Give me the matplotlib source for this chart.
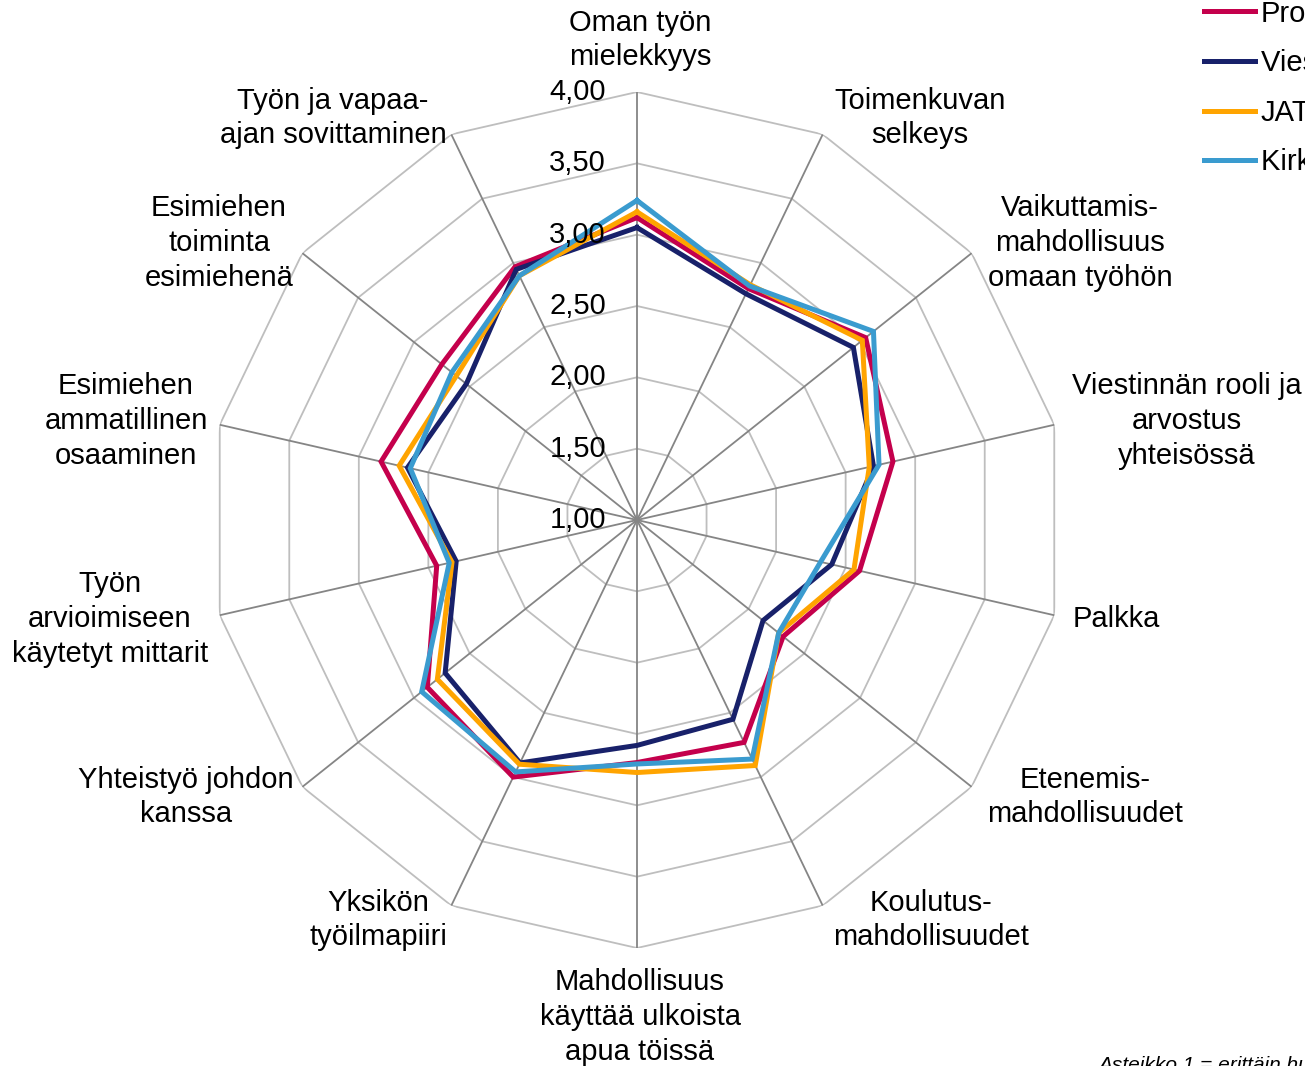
import numpy as np
import matplotlib
matplotlib.use("Agg")
import matplotlib.pyplot as plt
from matplotlib.transforms import offset_copy

plt.rcParams['font.family'] = ['Liberation Sans', 'DejaVu Sans']

# ------------------------
# Data
# ------------------------
categories = [
    "Oman työn\nmielekkyys",
    "Toimenkuvan\nselkeys",
    "Vaikuttamis-\nmahdollisuus\nomaan työhön",
    "Viestinnän rooli ja\narvostus\nyhteisössä",
    "Palkka",
    "Etenemis-\nmahdollisuudet",
    "Koulutus-\nmahdollisuudet",
    "Mahdollisuus\nkäyttää ulkoista\napua töissä",
    "Yksikön\ntyöilmapiiri",
    "Yhteistyö johdon\nkanssa",
    "Työn\narvioimiseen\nkäytetyt mittarit",
    "Esimiehen\nammatillinen\nosaaminen",
    "Esimiehen\ntoiminta\nesimiehenä",
    "Työn ja vapaa-\najan sovittaminen",
]

procom = [3.12, 2.80, 3.05, 2.84, 2.60, 2.31, 2.73, 2.70, 3.00, 2.88, 2.44, 2.84, 2.75, 2.97]
viestijat = [3.05, 2.76, 2.94, 2.70, 2.40, 2.13, 2.55, 2.58, 2.89, 2.72, 2.30, 2.65, 2.53, 2.95]
jat = [3.16, 2.83, 3.02, 2.67, 2.56, 2.27, 2.91, 2.77, 2.90, 2.79, 2.33, 2.71, 2.62, 2.90]
kirkko = [3.24, 2.82, 3.12, 2.74, 2.32, 2.27, 2.86, 2.71, 2.96, 2.93, 2.35, 2.63, 2.66, 2.90]

series_names = ["ProCom", "Viestinnän ammattilaiset", "JAT", "Kirkon viestijät"]
series_colors = ["#C4004C", "#18216A", "#FFA400", "#3A9BCF"]

levels = [1.0, 1.5, 2.0, 2.5, 3.0, 3.5, 4.0]
level_labels = ["1,00", "1,50", "2,00", "2,50", "3,00", "3,50", "4,00"]

# label centres in pixels (x, y from top)
label_pos = [(640, 40), (920, 118), (1080, 243), (1187, 421), (1116, 619),
             (1085, 797), (931, 920), (640, 1017), (378, 920), (186, 797),
             (110, 619), (126, 421), (219, 243), (333, 118)]

W, H = 1305, 1066
FS = 21

# ------------------------
# Setup Plot
# ------------------------
fig = plt.figure(figsize=(W / 100, H / 100), dpi=100)
ax = fig.add_axes([(637 - 428) / W, 1 - (520 + 428) / H, 856 / W, 856 / H], projection='polar')
ax.set_theta_zero_location('N')
ax.set_theta_direction(-1)
ax.set_ylim(1, 4)
ax.grid(False)
ax.set_xticks([])
ax.set_yticks([])
ax.spines['polar'].set_visible(False)

n = len(categories)
angles = np.arange(n) * 2 * np.pi / n
closed = np.append(angles, angles[0])

# polygon rings
for lev in levels[1:]:
    ax.plot(closed, [lev] * (n + 1), color="#BEBEBE", lw=1.3, zorder=1)

# spokes
for a in angles:
    ax.plot([a, a], [1, 4], color="#858585", lw=1.3, zorder=1.5)

# radial value labels next to the top spoke
trans = offset_copy(ax.transData, fig=fig, x=-31, y=0, units='dots')
for lev, lab in zip(levels, level_labels):
    ax.text(0, lev, lab, transform=trans, ha='right', va='center', fontsize=FS, zorder=3)

# series
for vals, name, col in zip([procom, viestijat, jat, kirkko], series_names, series_colors):
    ax.plot(closed, vals + vals[:1], color=col, lw=3.6, label=name, zorder=2,
            solid_joinstyle='miter')

# category labels
for text, (px, py) in zip(categories, label_pos):
    fig.text(px / W, 1 - py / H, text, ha='center', va='center', fontsize=FS,
             linespacing=1.31)

leg = fig.legend(loc='upper left', bbox_to_anchor=(1192 / W, 1 + 12 / H), frameon=False,
                 fontsize=FS, handlelength=1.75, handletextpad=0.2, labelspacing=0.74,
                 borderaxespad=0)

fig.text(1098 / W, 1 - 1056 / H, "Asteikko 1 = erittäin huono, 4 = erittäin hyvä",
         ha='left', va='top', fontsize=15, style='italic')

fig.savefig("out.png", dpi=100)
